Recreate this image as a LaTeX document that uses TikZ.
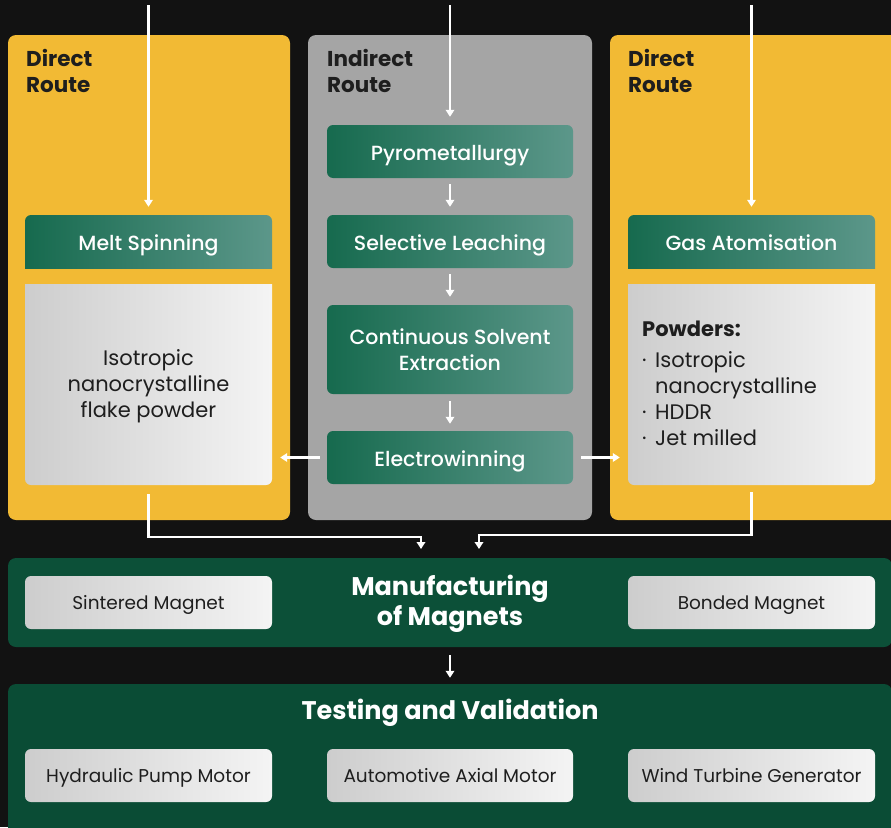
\documentclass[tikz,border=0pt]{standalone}
\usepackage{fontspec}
\setmainfont{Poppins}
\newfontfamily\pmed{Poppins Medium}
\usetikzlibrary{arrows.meta}
\definecolor{bgc}{HTML}{121212}
\definecolor{ylw}{HTML}{F2BA34}
\definecolor{gry}{HTML}{A5A5A5}
\definecolor{gA}{HTML}{166A4E}
\definecolor{gB}{HTML}{5C978A}
\definecolor{gpanel}{HTML}{0C5038}
\definecolor{gpanelB}{HTML}{0A4C35}
\definecolor{lgA}{HTML}{CDCDCD}
\definecolor{lgB}{HTML}{F4F4F4}
\definecolor{ink}{HTML}{1E1E1E}
\tikzset{
  greenbox/.style={shade, left color=gA, right color=gB, rounded corners=6pt,
    minimum width=246pt, minimum height=53pt, inner sep=0pt, text=white,
    font=\pmed\fontsize{20.5}{26}\selectfont, align=center},
  oneline/.style={text height=18pt, text depth=1pt},
  lightbox/.style={shade, left color=lgA, right color=lgB, rounded corners=6pt,
    minimum width=247pt, minimum height=53pt, inner sep=0pt, text=ink,
    font=\fontsize{18.5}{22}\selectfont, text height=15pt, text depth=2pt},
  textonly/.style={inner sep=0pt, minimum width=247pt},
  conn/.style={draw=white, line width=2.4pt, -{Triangle[width=8.5pt,length=7pt]}},
  routelabel/.style={anchor=north west, align=left, inner sep=0pt, text=ink,
    font=\bfseries\fontsize{21.5}{26}\selectfont},
  paneltitle/.style={text=white, align=center, inner sep=0pt,
    font=\bfseries\fontsize{25.5}{30}\selectfont}
}
\begin{document}
\begin{tikzpicture}[x=1pt,y=-1pt]
\useasboundingbox (0,0) rectangle (891,827);
\fill[bgc] (0,0) rectangle (891,827);

% route panels
\fill[ylw, rounded corners=8pt] (8,35) rectangle (290,520);
\fill[gry, rounded corners=8pt] (308,35) rectangle (592,520);
\fill[ylw, rounded corners=8pt] (610,35) rectangle (900,520);

\node[routelabel] (dl) at (26,49) {Direct\\Route};
\node[routelabel] (il) at (327,49) {Indirect\\Route};
\node[routelabel] (dr) at (628,49) {Direct\\Route};

% left column shapes
\begin{scope}
  \clip (20,210) rectangle (280,268);
  \shade[left color=gA, right color=gB, rounded corners=6pt] (25,215) rectangle (272,285);
\end{scope}
\begin{scope}
  \clip (20,284) rectangle (280,490);
  \shade[left color=lgA, right color=lgB, rounded corners=6pt] (25,270) rectangle (272,485);
\end{scope}
% right column shapes
\begin{scope}
  \clip (623,210) rectangle (880,268);
  \shade[left color=gA, right color=gB, rounded corners=6pt] (628,215) rectangle (875,285);
\end{scope}
\begin{scope}
  \clip (623,284) rectangle (880,490);
  \shade[left color=lgA, right color=lgB, rounded corners=6pt] (628,270) rectangle (875,485);
\end{scope}

\node[textonly, oneline, minimum height=53pt, text=white, font=\pmed\fontsize{20.5}{26}\selectfont] (melt) at (148.5,241.5) {Melt Spinning};
\node[textonly, oneline, minimum height=53pt, text=white, font=\pmed\fontsize{20.5}{26}\selectfont] (gas) at (751.5,241.5) {Gas Atomisation};
\node[textonly, minimum height=201pt, text=ink, align=center, font=\fontsize{21}{26}\selectfont] (iso) at (148.5,386.5) {Isotropic\\nanocrystalline\\flake powder};
\node[textonly, minimum height=201pt] (pow) at (751.5,384.5) {};
\node[anchor=north west, inner sep=0pt, align=left, text=ink, font=\fontsize{21}{26}\selectfont] (powtxt) at (642,321)
  {\textbf{Powders:}\\[5pt]
   \makebox[13pt][l]{·}Isotropic\\
   \hspace*{13pt}nanocrystalline\\
   \makebox[13pt][l]{·}HDDR\\
   \makebox[13pt][l]{·}Jet milled};

% indirect route boxes
\node[greenbox, oneline] (pyro) at (450,151.5) {Pyrometallurgy};
\node[greenbox, oneline] (sel) at (450,241.5) {Selective Leaching};
\node[greenbox, minimum height=89pt] (cse) at (450,349.5) {\rule{0pt}{17pt}Continuous Solvent\\Extraction};
\node[greenbox, oneline] (elec) at (450,457.5) {Electrowinning};

% manufacturing and testing panels
\node[fill=gpanel, rounded corners=8pt, minimum width=884pt, minimum height=89pt, inner sep=0pt] (manu) at (450,602.5) {};
\node[fill=gpanelB, rounded corners=8pt, minimum width=884pt, minimum height=160pt, inner sep=0pt] (test) at (450,764) {};

\node[paneltitle] (mtitle) at (450,604) {Manufacturing\\of Magnets};
\node[lightbox] (sint) at (148.5,602.5) {Sintered Magnet};
\node[lightbox] (bond) at (751.5,602.5) {Bonded Magnet};

\node[paneltitle] (ttitle) at (450,713) {Testing and Validation};
\node[lightbox] (hyd) at (148.5,775.5) {Hydraulic Pump Motor};
\node[lightbox, minimum width=246pt] (auto) at (450,775.5) {Automotive Axial Motor};
\node[lightbox] (wind) at (751.5,775.5) {Wind Turbine Generator};

% connectors
\coordinate (topL) at (148.5,5);
\coordinate (topM) at (450,5);
\coordinate (topR) at (751.5,5);
\draw[conn] (topL) -- ([yshift=8pt]melt.north);
\draw[conn] (topM) -- ([yshift=8pt]pyro.north);
\draw[conn] (topR) -- ([yshift=8pt]gas.north);

\draw[conn] ([yshift=-6pt]pyro.south) -- ([yshift=8pt]sel.north);
\draw[conn] ([yshift=-6pt]sel.south) -- ([yshift=8pt]cse.north);
\draw[conn] ([yshift=-7pt]cse.south) -- ([yshift=7pt]elec.north);

\draw[conn] ([xshift=-7pt]elec.west) -- ([xshift=8pt]iso.east |- elec.west);
\draw[conn] ([xshift=8pt]elec.east) -- ([xshift=-8pt]pow.west |- elec.east);

\coordinate (inL) at (421,549);
\coordinate (inR) at (479,549);
\draw[conn] ([yshift=-7pt]iso.south) -- ++(0,43) -| (inL);
\draw[conn] ([yshift=-7pt]pow.south) -- ++(0,43) -| (inR);

\draw[conn] ([yshift=-8pt]manu.south) -- ([yshift=6pt]test.north);
\end{tikzpicture}
\end{document}
